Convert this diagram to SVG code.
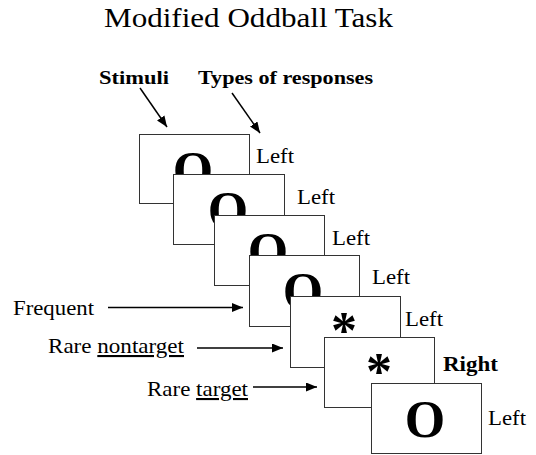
<svg xmlns="http://www.w3.org/2000/svg" width="536" height="455" viewBox="0 0 536 455" font-family="'Liberation Serif', 'Times New Roman', serif">
<style>
text{font-family:'Liberation Serif','Times New Roman',serif;fill:#000}
.t{font-size:27px}
.h{font-size:19px;font-weight:bold}
.l{font-size:21px}
.r{font-size:21px;font-weight:bold}
.big{font-size:52px;font-weight:bold;text-anchor:middle}
.ast{font-size:52px;font-weight:bold;text-anchor:middle}
.box{fill:#fff;stroke:#333;stroke-width:1}
.u{text-decoration:underline}
.c{stroke:#000;stroke-width:1.5;fill:none;marker-end:url(#ah)}
</style>
<defs>
<marker id="ah" markerUnits="userSpaceOnUse" markerWidth="12" markerHeight="10" refX="11" refY="4.5" orient="auto">
<path d="M0,0 L11,4.5 L0,9 z" fill="#000"/>
</marker>
</defs>
<rect width="536" height="455" fill="#fff"/>
<g id="title"><text class="t" x="104" y="27" textLength="289" lengthAdjust="spacingAndGlyphs">Modified Oddball Task</text></g>
<g id="stimuli-label"><text class="h" x="99" y="84" textLength="70" lengthAdjust="spacingAndGlyphs">Stimuli</text></g>
<g id="responses-label"><text class="h" x="198" y="84" textLength="175" lengthAdjust="spacingAndGlyphs">Types of responses</text></g>
<g id="frequent-label"><text class="l" x="13" y="315" textLength="81" lengthAdjust="spacingAndGlyphs">Frequent</text></g>
<g id="rare-nontarget-label"><text class="l" x="48" y="353" textLength="136" lengthAdjust="spacingAndGlyphs">Rare <tspan class="u">nontarget</tspan></text></g>
<g id="rare-target-label"><text class="l" x="147" y="396" textLength="101" lengthAdjust="spacingAndGlyphs">Rare <tspan class="u">target</tspan></text></g>
<g id="stim1"><rect class="box" x="139.5" y="134.5" width="110" height="69"/><text class="big" x="193" y="188">O</text><text class="l" x="256" y="163" textLength="38" lengthAdjust="spacingAndGlyphs">Left</text></g>
<g id="stim2"><rect class="box" x="173.5" y="174.5" width="111" height="70"/><text class="big" x="228" y="228">O</text><text class="l" x="297" y="204" textLength="38" lengthAdjust="spacingAndGlyphs">Left</text></g>
<g id="stim3"><rect class="box" x="214.5" y="215.5" width="110" height="70"/><text class="big" x="268" y="269">O</text><text class="l" x="332" y="245" textLength="38" lengthAdjust="spacingAndGlyphs">Left</text></g>
<g id="stim4"><rect class="box" x="249.5" y="255.5" width="110" height="71"/><text class="big" x="303" y="309">O</text><text class="l" x="372" y="284" textLength="38" lengthAdjust="spacingAndGlyphs">Left</text></g>
<g id="stim5"><rect class="box" x="290.5" y="296.5" width="110" height="71"/><text class="ast" x="344" y="348">*</text><text class="l" x="405" y="326" textLength="38" lengthAdjust="spacingAndGlyphs">Left</text></g>
<g id="stim6"><rect class="box" x="324.5" y="337.5" width="110" height="70"/><text class="ast" x="379" y="389">*</text><text class="r" x="443" y="371" textLength="55" lengthAdjust="spacingAndGlyphs">Right</text></g>
<g id="stim7"><rect class="box" x="371.5" y="383.5" width="110" height="70"/><text class="big" x="425" y="437">O</text><text class="l" x="488" y="425" textLength="38" lengthAdjust="spacingAndGlyphs">Left</text></g>
<g id="connectors">
<line class="c" x1="140" y1="88" x2="167" y2="127"/>
<line class="c" x1="232" y1="93" x2="260" y2="133"/>
<line class="c" x1="108" y1="307.5" x2="243" y2="307.5"/>
<line class="c" x1="197" y1="348" x2="283" y2="348"/>
<line class="c" x1="253" y1="387" x2="317" y2="387"/>
</g>
</svg>
